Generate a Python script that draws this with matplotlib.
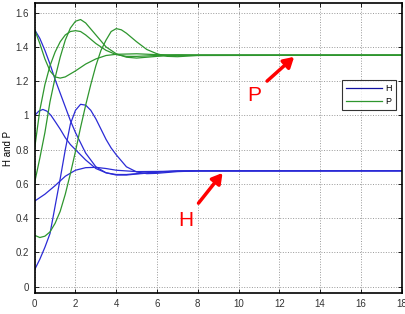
import numpy as np
import matplotlib.pyplot as plt

plt.rcParams['font.family'] = ['Liberation Sans', 'DejaVu Sans']

# H curves (blue)
t_h1 = [0, 0.25, 0.5, 0.75, 1.0, 1.25, 1.5, 1.75, 2.0, 2.5, 3.0, 3.5, 4.0, 4.5, 5, 6, 7, 8, 18]
h1 = [1.50, 1.45, 1.38, 1.30, 1.21, 1.13, 1.05, 0.97, 0.90, 0.78, 0.70, 0.665, 0.652, 0.652, 0.658, 0.668, 0.675, 0.677, 0.677]

t_h2 = [0, 0.2, 0.4, 0.6, 0.8, 1.0, 1.25, 1.5, 1.75, 2.0, 2.5, 3.0, 3.5, 4.0, 4.5, 5, 6, 7, 8, 18]
h2 = [1.00, 1.025, 1.035, 1.025, 1.0, 0.965, 0.92, 0.87, 0.83, 0.80, 0.74, 0.69, 0.665, 0.655, 0.655, 0.66, 0.67, 0.676, 0.677, 0.677]

t_h3 = [0, 0.5, 1.0, 1.5, 2.0, 2.5, 3.0, 3.5, 4.0, 5, 6, 8, 18]
h3 = [0.50, 0.54, 0.59, 0.645, 0.68, 0.695, 0.697, 0.69, 0.68, 0.672, 0.673, 0.676, 0.677]

t_h4 = [0, 0.25, 0.5, 0.75, 1.0, 1.25, 1.5, 1.75, 2.0, 2.25, 2.5, 2.75, 3.0, 3.25, 3.5, 3.75, 4.0, 4.5, 5, 5.5, 6, 7, 8, 18]
h4 = [0.10, 0.16, 0.23, 0.31, 0.47, 0.63, 0.80, 0.95, 1.03, 1.065, 1.06, 1.03, 0.98, 0.92, 0.86, 0.81, 0.77, 0.70, 0.67, 0.66, 0.662, 0.672, 0.676, 0.677]

# P curves (green)
t_p1 = [0, 0.25, 0.5, 0.75, 1.0, 1.25, 1.5, 2, 2.5, 3, 3.5, 4, 5, 6, 8, 18]
p1 = [1.50, 1.42, 1.33, 1.26, 1.225, 1.218, 1.225, 1.26, 1.30, 1.33, 1.35, 1.357, 1.36, 1.355, 1.352, 1.352]

t_p2 = [0, 0.25, 0.5, 0.75, 1.0, 1.25, 1.5, 1.75, 2.0, 2.25, 2.5, 3, 3.5, 4, 4.5, 5, 6, 7, 8, 18]
p2 = [0.81, 1.03, 1.18, 1.29, 1.37, 1.43, 1.47, 1.49, 1.495, 1.49, 1.47, 1.42, 1.38, 1.355, 1.345, 1.345, 1.35, 1.352, 1.352, 1.352]

t_p3 = [0, 0.25, 0.5, 0.75, 1.0, 1.25, 1.5, 1.75, 2.0, 2.25, 2.5, 3, 3.5, 4, 4.5, 5, 6, 7, 8, 18]
p3 = [0.61, 0.75, 0.90, 1.08, 1.22, 1.34, 1.44, 1.51, 1.55, 1.56, 1.54, 1.47, 1.40, 1.36, 1.34, 1.335, 1.345, 1.352, 1.352, 1.352]

t_p4 = [0, 0.25, 0.5, 0.75, 1.0, 1.25, 1.5, 1.75, 2.0, 2.25, 2.5, 2.75, 3.0, 3.25, 3.5, 3.75, 4.0, 4.25, 4.5, 5, 5.5, 6, 6.5, 7, 8, 18]
p4 = [0.30, 0.287, 0.295, 0.32, 0.37, 0.44, 0.54, 0.66, 0.79, 0.93, 1.06, 1.18, 1.29, 1.38, 1.44, 1.49, 1.507, 1.50, 1.48, 1.43, 1.385, 1.36, 1.345, 1.343, 1.35, 1.352]

x_ticks = [0, 2, 4, 6, 8, 10, 12, 14, 16, 18]
y_ticks = [0, 0.2, 0.4, 0.6, 0.8, 1.0, 1.2, 1.4, 1.6]
y_labels = ['0', '0.2', '0.4', '0.6', '0.8', '1', '1.2', '1.4', '1.6']

blue = '#2b2bd6'
green = '#2e962e'

fig = plt.figure(figsize=(4.05, 3.14), dpi=100)
ax = fig.add_axes([0.0857, 0.066, 0.906, 0.9236])

for t, v in [(t_h1, h1), (t_h2, h2), (t_h3, h3), (t_h4, h4)]:
    ax.plot(t, v, color=blue, lw=0.9)
for t, v in [(t_p1, p1), (t_p2, p2), (t_p3, p3), (t_p4, p4)]:
    ax.plot(t, v, color=green, lw=0.9)

# legend proxies
ax.plot([], [], color='#1010a0', lw=0.9, label='H')
ax.plot([], [], color=green, lw=0.9, label='P')
leg = ax.legend(loc='upper right', bbox_to_anchor=(0.997, 0.75), fontsize=6.5,
                frameon=True, fancybox=False, edgecolor='black', handlelength=4.0,
                borderpad=0.45, labelspacing=0.45, handletextpad=0.4)
leg.get_frame().set_linewidth(0.8)

# red arrows and labels
ax.annotate('', xy=(12.83, 1.353), xytext=(11.3, 1.19),
            arrowprops=dict(arrowstyle='-|>,head_length=0.6,head_width=0.35', color='red', lw=2.5))
ax.text(10.75, 1.115, 'P', color='red', fontsize=15, ha='center', va='center')
ax.annotate('', xy=(9.3, 0.677), xytext=(7.95, 0.475),
            arrowprops=dict(arrowstyle='-|>,head_length=0.6,head_width=0.35', color='red', lw=2.5))
ax.text(7.41, 0.385, 'H', color='red', fontsize=15, ha='center', va='center')

ax.set_xlim(0, 18)
ax.set_ylim(-0.0385, 1.655)
ax.set_xticks(x_ticks)
ax.set_yticks(y_ticks)
ax.set_yticklabels(y_labels)
ax.tick_params(direction='in', length=3, width=0.6, labelsize=7, top=True, right=True,
               pad=4, labelcolor='#333333')
ax.grid(True, linestyle=':', color='#999999', lw=0.7)
for s in ax.spines.values():
    s.set_linewidth(1.2)

ax.set_ylabel('H and P', fontsize=7, labelpad=2)
ax.set_xlabel('t', fontsize=7, labelpad=4)

fig.savefig('out.png', dpi=100)
